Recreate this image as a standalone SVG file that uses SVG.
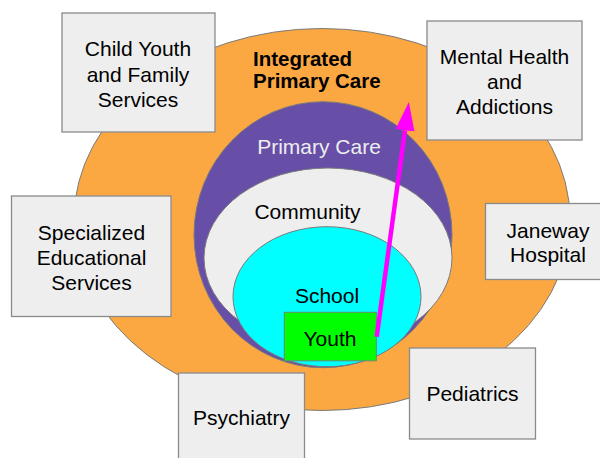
<svg xmlns="http://www.w3.org/2000/svg" width="600" height="458" viewBox="0 0 600 458">
<style>
text{font-family:"Liberation Sans",Arial,sans-serif;font-size:21px;fill:#000}
.c{text-anchor:middle}
.box{fill:#eeeeee;stroke:#8a8a8a;stroke-width:1.3}
.ring{stroke:#7a7a7a;stroke-width:1}
</style>
<defs>
<marker id="ah" markerUnits="userSpaceOnUse" markerWidth="30" markerHeight="22" viewBox="0 -11 30 22" refX="0" refY="0" orient="auto">
<path d="M0,-9.5 L28.5,0 L0,9.5 z" fill="#ff00ff"/>
</marker>
</defs>
<rect width="600" height="458" fill="#ffffff"/>
<g id="integrated-primary-care">
<ellipse class="ring" cx="322" cy="219.5" rx="248" ry="191" fill="#fba843"/>
<text x="253" y="66" style="font-weight:bold;font-size:20.5px">Integrated</text>
<text x="253" y="88" style="font-weight:bold;font-size:20.5px">Primary Care</text>
</g>
<g id="primary-care">
<ellipse class="ring" cx="323" cy="234.7" rx="129" ry="133" fill="#674ea7"/>
<text class="c" x="319" y="153.5" style="fill:#eeeeee">Primary Care</text>
</g>
<g id="community">
<ellipse class="ring" cx="328" cy="258" rx="124" ry="90" fill="#eeeeee"/>
<text class="c" x="307.5" y="218.5">Community</text>
</g>
<g id="school">
<ellipse class="ring" cx="327" cy="296.7" rx="94" ry="70" fill="#00ffff"/>
<text class="c" x="327" y="303">School</text>
</g>
<g id="youth">
<rect x="284.3" y="312.3" width="92" height="48.5" fill="#00ff00" stroke="#6a8a6a" stroke-width="1"/>
<text class="c" x="330" y="346">Youth</text>
</g>
<g id="child-youth-family">
<rect class="box" x="62" y="13" width="153" height="119"/>
<text class="c" x="138" y="56">Child Youth</text>
<text class="c" x="138" y="82">and Family</text>
<text class="c" x="138" y="107">Services</text>
</g>
<g id="mental-health">
<rect class="box" x="427" y="21" width="155" height="119"/>
<text class="c" x="504.5" y="64">Mental Health</text>
<text class="c" x="504.5" y="89">and</text>
<text class="c" x="504.5" y="114">Addictions</text>
</g>
<g id="specialized-educational">
<rect class="box" x="11.5" y="196" width="159.5" height="120.5"/>
<text class="c" x="91.5" y="239.5">Specialized</text>
<text class="c" x="91.5" y="264.5">Educational</text>
<text class="c" x="91.5" y="289.5">Services</text>
</g>
<g id="janeway">
<rect class="box" x="485.5" y="203.5" width="125" height="76"/>
<text class="c" x="548" y="237.5">Janeway</text>
<text class="c" x="548" y="262">Hospital</text>
</g>
<g id="pediatrics">
<rect class="box" x="409.5" y="348" width="126" height="91"/>
<text class="c" x="472.5" y="401">Pediatrics</text>
</g>
<g id="psychiatry">
<rect class="box" x="178.5" y="373" width="126" height="100"/>
<text class="c" x="241.5" y="425">Psychiatry</text>
</g>
<g id="connectors">
<line x1="376.7" y1="336.7" x2="405" y2="130.3" stroke="#ff00ff" stroke-width="4.5" marker-end="url(#ah)"/>
</g>
</svg>
